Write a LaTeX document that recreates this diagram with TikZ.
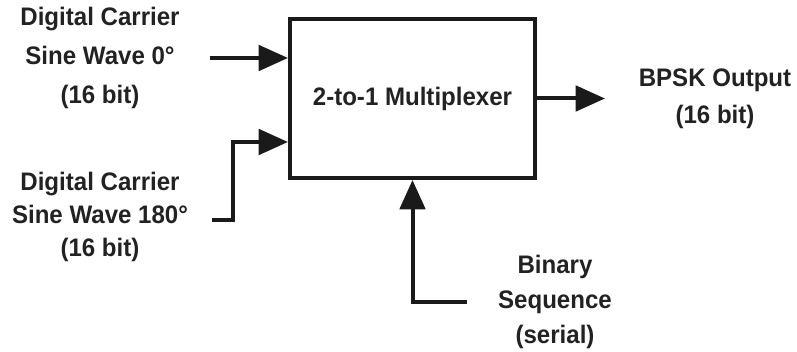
\documentclass[tikz,border=0pt]{standalone}
\usepackage{fontspec}
\setmainfont[FakeStretch=0.95]{Liberation Sans}
\usetikzlibrary{arrows.meta,positioning,calc}
\definecolor{ink}{HTML}{1A1A1A}
\definecolor{labelgray}{HTML}{222222}
\tikzset{
  muxbox/.style={draw=ink,line width=3pt,
                 minimum width=183.75pt,minimum height=119.25pt,
                 font=\fontsize{19}{22}\selectfont\bfseries,text=labelgray,inner sep=0pt},
  sigtext/.style={align=center,font=\fontsize{19}{#1}\selectfont\bfseries,
                  text=labelgray,inner sep=0pt},
  sigtext/.default=27pt,
  sigarr/.style={-{Triangle[length=22pt,width=19pt]},draw=ink,line width=3pt}
}

\begin{document}
\begin{tikzpicture}[x=0.75pt,y=-0.75pt]
  \useasboundingbox (0,0) rectangle (797,352);
  % the multiplexer
  \node[muxbox] (mux) at (412.5,98.5) {2-to-1 Multiplexer};
  % inputs and output labels
  \node[sigtext=29pt] (car0) at (100,58) {Digital Carrier\\Sine Wave 0°\\(16 bit)};
  \node[sigtext=25pt] (car180) at (100,217) {Digital Carrier\\Sine Wave 180°\\(16 bit)};
  \node[sigtext=28pt] (bpsk) at (715,98.5) {BPSK Output\\(16 bit)};
  \node[sigtext=26pt] (binary) at (555,302) {Binary\\Sequence\\(serial)};
  % free ends of the wires
  \coordinate (src0) at (210,58);
  \coordinate (src180) at (212,220);
  \coordinate (bend180) at (233,142);
  \coordinate (dst) at (605,98.5);
  \coordinate (sel) at (467,302);
  % wires
  \draw[sigarr] (src0) -- (src0 -| mux.west);
  \draw[sigarr] (src180) -| (bend180) -- (bend180 -| mux.west);
  \draw[sigarr] (mux.east) -- (dst);
  \draw[sigarr] (sel) -| (mux.south);
\end{tikzpicture}
\end{document}
